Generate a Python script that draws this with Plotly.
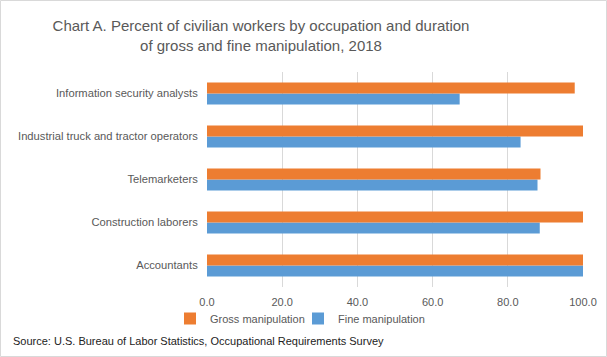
import plotly.graph_objects as go

categories = ["Accountants", "Construction laborers", "Telemarketers",
              "Industrial truck and tractor operators", "Information security analysts"]
gross = [100.0, 100.0, 88.7, 100.0, 97.8]
fine = [100.0, 88.5, 87.9, 83.4, 67.2]
x_ticks = [0, 20, 40, 60, 80, 100]

W, H = 607, 357
L, R, T, B = 207, 24, 72, 70
pw, ph = W - L - R, H - T - B

def px_x(p):
    return (p - L) / pw

def px_y(p):
    return (H - B - p) / ph

FONT = "Liberation Sans"
GREY = "#595959"

fig = go.Figure()
fig.add_trace(go.Bar(y=categories, x=fine, orientation="h", name="Fine manipulation",
                     marker=dict(color="#5B9BD5", line=dict(width=0)), legend="legend2"))
fig.add_trace(go.Bar(y=categories, x=gross, orientation="h", name="Gross manipulation",
                     marker=dict(color="#ED7D31", line=dict(width=0)), legend="legend"))

legend_common = dict(orientation="h", yanchor="top", y=px_y(304), xanchor="left",
                     font=dict(size=11, color=GREY), itemwidth=30,
                     bgcolor="rgba(0,0,0,0)")

fig.update_layout(
    width=W, height=H,
    margin=dict(l=L, r=R, t=T, b=B, autoexpand=False),
    paper_bgcolor="white", plot_bgcolor="white",
    barmode="group", bargap=0.49, bargroupgap=0,
    font=dict(family=FONT, color=GREY),
    title=dict(text="Chart A. Percent of civilian workers by occupation and duration<br>of gross and fine manipulation, 2018",
               x=261 / W, xref="container", xanchor="center", y=1 - 31 / H, yref="container", yanchor="middle",
               font=dict(size=15, color=GREY, family=FONT)),
    xaxis=dict(range=[0, 100], tickvals=x_ticks, tickformat=".1f", showgrid=True,
               gridcolor="#d9d9d9", gridwidth=1, zeroline=False, showline=False,
               ticks="outside", ticklen=5, tickcolor="rgba(0,0,0,0)",
               tickfont=dict(size=11, color=GREY), fixedrange=True),
    yaxis=dict(showgrid=False, zeroline=False, showline=False,
               ticks="outside", ticklen=6, tickcolor="rgba(0,0,0,0)",
               tickfont=dict(size=11.2, color=GREY), fixedrange=True),
    legend=dict(legend_common, x=px_x(170)),
    legend2=dict(legend_common, x=px_x(298)),
    showlegend=True,
    annotations=[dict(text="Source: U.S. Bureau of Labor Statistics, Occupational Requirements Survey",
                      xref="paper", yref="paper", x=px_x(11), y=px_y(341), xanchor="left",
                      yanchor="middle", showarrow=False, font=dict(size=11, color="#222222"))],
    shapes=[dict(type="rect", xref="paper", yref="paper",
                 x0=px_x(0.5), x1=px_x(W - 0.5), y0=px_y(H - 0.5), y1=px_y(0.5),
                 line=dict(color="#d9d9d9", width=1), fillcolor="rgba(0,0,0,0)", layer="below")],
)

fig.write_html("out.html", config={"displayModeBar": False},
               post_script="document.body.style.margin='0';document.body.style.overflow='hidden';")
